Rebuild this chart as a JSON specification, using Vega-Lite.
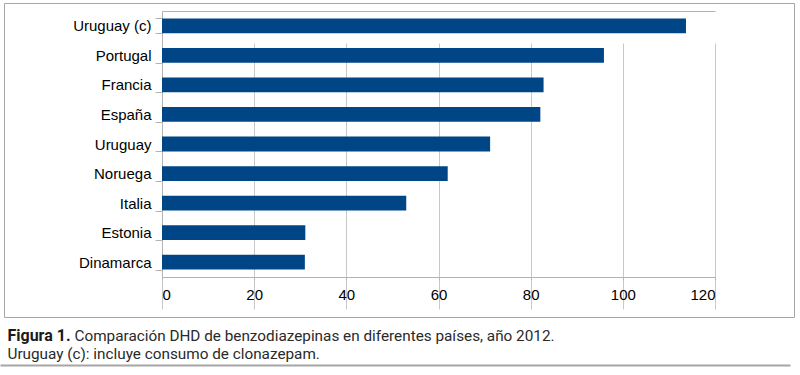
{
  "$schema": "https://vega.github.io/schema/vega-lite/v6.json",
  "autosize": "none",
  "width": 790,
  "height": 314,
  "padding": {"left": 4, "top": 3, "right": 6, "bottom": 58},
  "background": "white",
  "config": {
    "view": {"stroke": "#a6a6a6", "strokeWidth": 1},
    "axis": {"labelFont": "Liberation Sans", "labelFontSize": 15, "labelColor": "#000000", "domainColor": "#b3b3b3", "tickColor": "#b3b3b3", "gridColor": "#c8c8c8"}
  },
  "data": {"values": [
    {"pais": "Uruguay (c)", "dhd": 113.7},
    {"pais": "Portugal", "dhd": 95.9},
    {"pais": "Francia", "dhd": 82.8},
    {"pais": "España", "dhd": 82.1},
    {"pais": "Uruguay", "dhd": 71.2},
    {"pais": "Noruega", "dhd": 62.0},
    {"pais": "Italia", "dhd": 53.0},
    {"pais": "Estonia", "dhd": 31.1},
    {"pais": "Dinamarca", "dhd": 31.0}
  ]},
  "resolve": {"scale": {"x": "independent"}, "axis": {"x": "independent"}},
  "layer": [
    {
      "mark": {"type": "bar", "color": "#004586"},
      "encoding": {
        "y": {"field": "pais", "type": "nominal", "sort": null,
          "scale": {"range": [8, 274], "paddingInner": 0.5, "paddingOuter": 0.25},
          "axis": {"orient": "left", "offset": -158, "title": null, "tickBand": "extent", "tickSize": 7, "labelPadding": 4, "grid": false}},
        "x": {"field": "dhd", "type": "quantitative",
          "scale": {"domain": [0, 120], "range": [158, 711], "nice": false},
          "axis": {"orient": "bottom", "offset": -40, "values": [0, 20, 40, 60, 80, 100, 120], "grid": true, "tickSize": 3, "labelPadding": 7,
            "title": "Figura 1.", "titleFont": "Roboto", "titleFontSize": 16, "titleFontWeight": "bold", "titleColor": "#1a1a1a",
            "titleX": 3, "titleY": 63, "titleAlign": "left", "titleBaseline": "alphabetic"}}
      }
    },
    {
      "mark": {"type": "point", "opacity": 0},
      "encoding": {
        "x": {"field": "dhd", "type": "quantitative",
          "scale": {"domain": [0, 120], "range": [158, 711], "nice": false},
          "axis": {"orient": "top", "offset": -8, "labels": false, "ticks": false, "grid": false,
            "title": "Comparación DHD de benzodiazepinas en diferentes países, año 2012.", "titleFont": "Roboto", "titleFontSize": 15.3, "titleFontWeight": "normal", "titleColor": "#2a2a2a",
            "titleX": 70, "titleY": 329, "titleAlign": "left", "titleBaseline": "alphabetic"}}
      }
    },
    {
      "data": {"values": [{"a": 0}]},
      "mark": {"type": "point", "opacity": 0},
      "encoding": {
        "x": {"field": "a", "type": "quantitative",
          "scale": {"domain": [0, 1], "range": [-4, 786], "nice": false, "zero": false},
          "axis": {"orient": "bottom", "offset": 48, "labels": false, "ticks": false, "grid": false, "domainColor": "#a6a6a6", "domainWidth": 2,
            "title": "Uruguay (c): incluye consumo de clonazepam.", "titleFont": "Roboto", "titleFontSize": 15.3, "titleFontWeight": "normal", "titleColor": "#2a2a2a",
            "titleX": 3, "titleY": -7, "titleAlign": "left", "titleBaseline": "alphabetic"}}
      }
    }
  ]
}
